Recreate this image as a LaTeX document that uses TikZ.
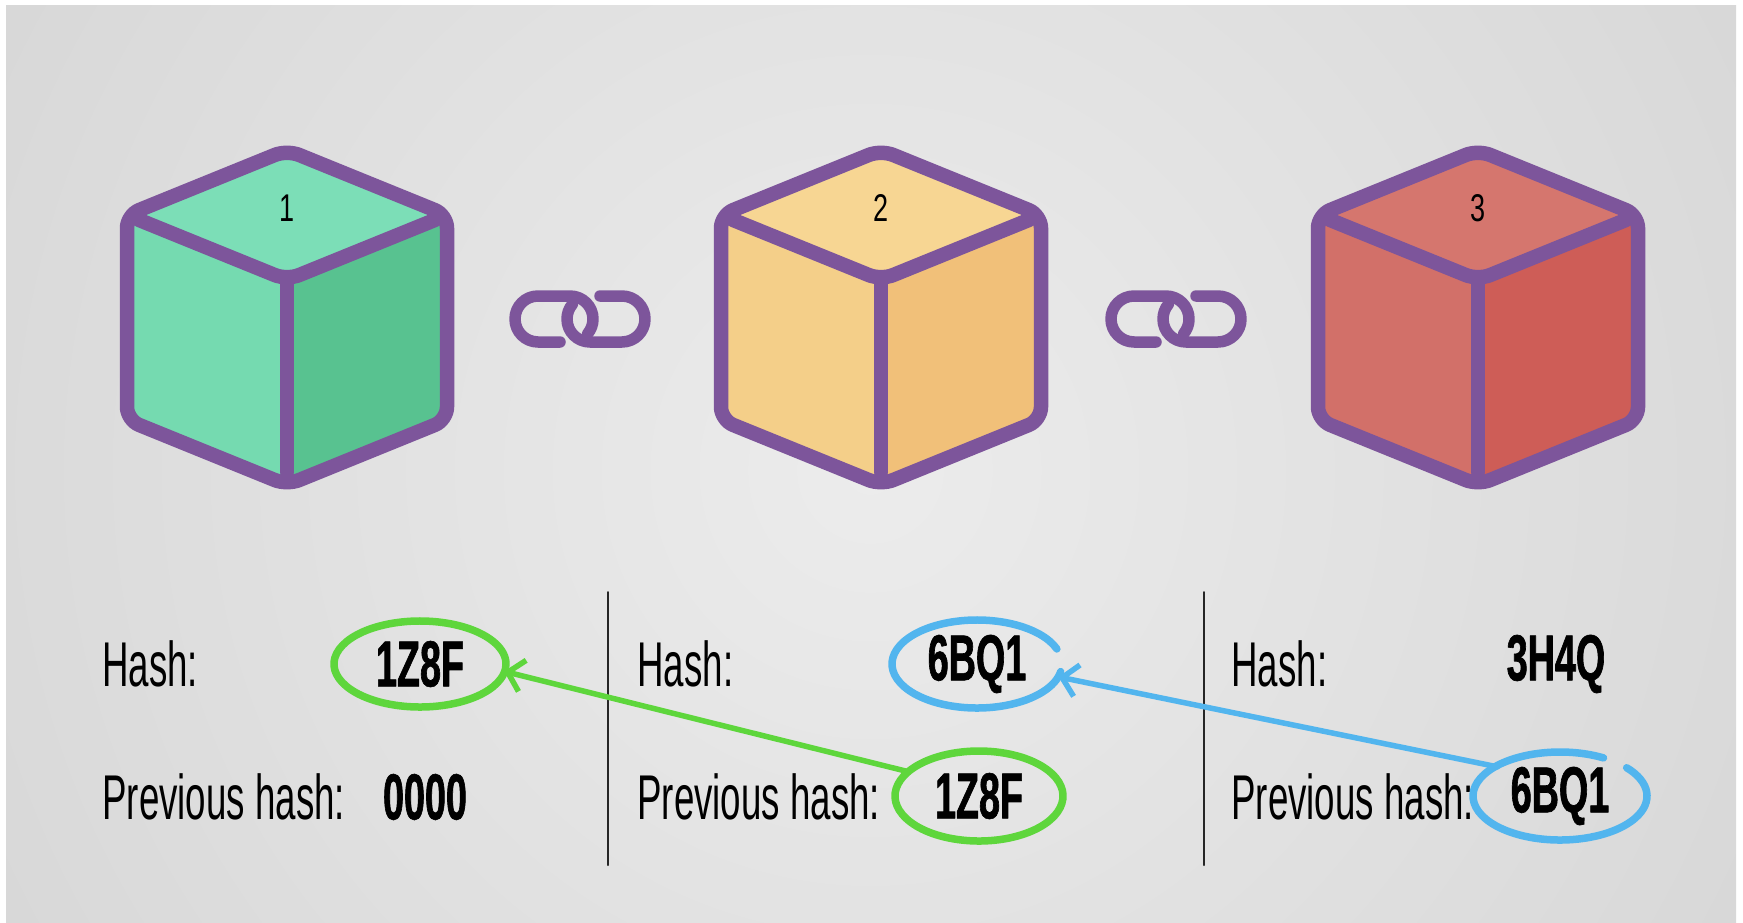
\documentclass[tikz,border=0pt]{standalone}
\usepackage{fontspec}
\usetikzlibrary{arrows.meta,shapes.geometric,positioning}
\setmainfont{Liberation Sans}
\newfontfamily\hashfont[FakeStretch=0.58,BoldFeatures={FakeBold=1}]{Liberation Sans}
\newfontfamily\numfont[FakeStretch=0.7]{Liberation Sans}
\definecolor{bgcenter}{HTML}{ECECEC}
\definecolor{bgmid}{HTML}{DADADA}
\definecolor{bgouter}{HTML}{C7C7C7}
\definecolor{bgedge}{HTML}{BFBFBF}
\definecolor{cubepurple}{HTML}{7D559B}
\definecolor{mintTop}{HTML}{7CDEB7}
\definecolor{mintLeft}{HTML}{75DAB0}
\definecolor{mintRight}{HTML}{58C290}
\definecolor{sandTop}{HTML}{F7D693}
\definecolor{sandLeft}{HTML}{F4CF89}
\definecolor{sandRight}{HTML}{F1C079}
\definecolor{roseTop}{HTML}{D5766E}
\definecolor{roseLeft}{HTML}{D27069}
\definecolor{roseRight}{HTML}{CE5D57}
\definecolor{ringgreen}{HTML}{5ED63C}
\definecolor{ringblue}{HTML}{52B5EE}
\pgfdeclareradialshading{bgglow}{\pgfpoint{0bp}{0bp}}{color(0bp)=(bgcenter); color(22bp)=(bgmid); color(43bp)=(bgouter); color(50bp)=(bgedge)}

\begin{document}
\begin{tikzpicture}[x=0.2mm,y=0.2mm,line cap=round,line join=round]
\tikzset{cubeline/.style={draw=cubepurple,line width=2.9mm,rounded corners=2.6mm},
  linkline/.style={draw=cubepurple,line width=2.3mm},
  sepline/.style={draw=black!85,line width=0.4mm},
  cubenum/.style={font=\numfont\fontsize{22}{24}\selectfont,text=black},
  hashlabel/.style={anchor=west,inner sep=0pt,font=\hashfont\fontsize{36}{40}\selectfont,text=black},
  hashvalue/.style={inner sep=0pt,font=\hashfont\bfseries\fontsize{37}{40}\selectfont,text=black},
  hashring/.style={hashvalue,ellipse,minimum width=34mm,minimum height=17mm},
  greenring/.style={draw=ringgreen,line width=1.5mm},
  bluering/.style={draw=ringblue,line width=1.5mm},
  greenarrow/.style={draw=ringgreen,line width=1.1mm,-{Straight Barb[length=3mm,width=6.4mm]}},
  bluearrow/.style={draw=ringblue,line width=1.1mm,-{Straight Barb[length=3mm,width=6.4mm]}}}
\useasboundingbox (0,0) rectangle (1743,-922);
\fill[white] (0,0) rectangle (1743,-922);
\begin{scope}
\clip (6,-5) rectangle (1736,-922);
\shade[shading=bgglow] (870,-470) circle (1000);
\end{scope}
% blocks
\foreach \cx/\num/\ctop/\cleft/\cright in {287/1/mintTop/mintLeft/mintRight,881/2/sandTop/sandLeft/sandRight,1478/3/roseTop/roseLeft/roseRight}
{
\fill[\ctop,rounded corners=2.6mm] (\cx,-150) -- (\cx+160,-215) -- (\cx,-280) -- (\cx-160,-215) -- cycle;
\fill[\cleft,rounded corners=2.6mm] (\cx-160,-215) -- (\cx,-280) -- (\cx,-485) -- (\cx-160,-420) -- cycle;
\fill[\cright,rounded corners=2.6mm] (\cx+160,-215) -- (\cx,-280) -- (\cx,-485) -- (\cx+160,-420) -- cycle;
\draw[cubeline] (\cx,-150) -- (\cx+160,-215) -- (\cx+160,-420) -- (\cx,-485) -- (\cx-160,-420) -- (\cx-160,-215) -- cycle;
\draw[cubeline] (\cx-148,-219.9) -- (\cx,-280) -- (\cx+148,-219.9);
\draw[cubeline] (\cx,-280) -- (\cx,-472);
\node[cubenum] (block\num) at (\cx,-208) {\num};
}
% links
\foreach \lx in {580,1176}
{
\draw[linkline] (\lx-20,-342) -- (\lx-42,-342) arc[start angle=270,end angle=90,radius=23] -- (\lx-10,-296) arc[start angle=90,end angle=-40,radius=23];
\draw[linkline] (\lx+20,-296) -- (\lx+42,-296) arc[start angle=90,end angle=-90,radius=23] -- (\lx+10,-342) arc[start angle=270,end angle=140,radius=23];
}
\draw[sepline] (608,-592) -- (608,-865);
\draw[sepline] (1204,-592) -- (1204,-865);
\foreach \lx/\col in {102/a,637/b,1231/c}
{
\node[hashlabel] (hash\col) at (\lx,-664) {Hash:};
\node[hashlabel] (prev\col) at (\lx,-797) {Previous hash:};
}
\node[hashring] (g1) at (420,-664) {1Z8F};
\node[hashvalue] (zero) at (425,-797) {0000};
\node[hashring] (b1) at (977,-664) {6BQ1};
\node[hashring] (g2) at (979,-796) {1Z8F};
\node[hashvalue] (last) at (1556,-664) {3H4Q};
\node[hashring] (b2) at (1560,-796) {6BQ1};
% rings
\draw[greenring] ([shift={(70:86 and 43)}]g1.center) arc[start angle=70,end angle=440,x radius=86,y radius=43];
\draw[bluering] ([shift={(20:85 and 44)}]b1.center) arc[start angle=20,end angle=350,x radius=85,y radius=44];
\draw[greenring] ([shift={(120:84 and 45)}]g2.center) arc[start angle=120,end angle=490,x radius=84,y radius=45];
\draw[bluering] ([shift={(60:87 and 44)}]b2.center) arc[start angle=60,end angle=400,x radius=87,y radius=44];
% arrows
\draw[greenarrow] (g2.161) -- (g1.-5);
\draw[bluearrow] (b2.155) -- (b1.-9);
\end{tikzpicture}
\end{document}
